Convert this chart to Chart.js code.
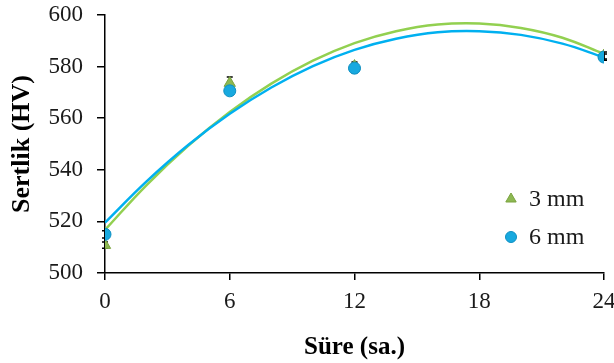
<!DOCTYPE html>
<html>
<head>
<meta charset="utf-8">
<script src="https://cdn.jsdelivr.net/npm/chart.js@4"></script>
<style>
  body { margin: 0; background: #fff; }
  #wrap { width: 614px; height: 363px; }
</style>
</head>
<body>
<div id="wrap"><canvas id="hardnessChart"></canvas></div>
<script>
// measured hours and hardness values
const hours = [0, 6, 12, 24];
const hv3mm = [510.8, 573.6, 580.2, 584.3];
const hv6mm = [515.0, 570.6, 579.4, 583.7];
const err3mm = [1.2, 2.4, 1.6, 1.4];
const err6mm = [1.4, 1.6, 1.8, 1.2];

// polynomial trend lines
const trendHours = [0, 2, 4, 6, 8, 10, 12, 14, 16, 18, 20, 22, 24];
const trend3mm = [516.7, 534.1, 549.3, 562.4, 573.4, 582.3, 589.1, 593.7, 596.3, 596.7, 595.0, 591.2, 584.9];
const trend6mm = [519.5, 535.5, 549.6, 561.7, 571.9, 580.2, 586.5, 590.8, 593.3, 593.7, 592.3, 588.9, 583.6];

const yTicks = [500, 520, 540, 560, 580, 600];
const xTicks = [0, 6, 12, 18, 24];

const GREEN = "#92D050";
const BLUE = "#00B0F0";
const FONT = "'Liberation Serif', 'Times New Roman', serif";

function toPoints(xs, ys) {
  return xs.map((x, i) => ({ x: x, y: ys[i] }));
}

// small error bars drawn under the markers
const errorBars = {
  id: "errorBars",
  beforeDatasetsDraw(chart) {
    const ctx = chart.ctx;
    const xs = chart.scales.x, ys = chart.scales.y;
    [[hv3mm, err3mm], [hv6mm, err6mm]].forEach(([vals, errs]) => {
      hours.forEach((h, i) => {
        const px = xs.getPixelForValue(h);
        const top = ys.getPixelForValue(vals[i] + errs[i]);
        const bot = ys.getPixelForValue(vals[i] - errs[i]);
        ctx.save();
        ctx.strokeStyle = "#000";
        ctx.lineWidth = 1.5;
        ctx.beginPath();
        ctx.moveTo(px, top); ctx.lineTo(px, bot);
        ctx.moveTo(px - 3, top); ctx.lineTo(px + 3, top);
        ctx.moveTo(px - 3, bot); ctx.lineTo(px + 3, bot);
        ctx.stroke();
        ctx.restore();
      });
    });
  }
};

// legend sits inside the plot, lower right
const insideLegend = {
  id: "insideLegend",
  afterDraw(chart) {
    const ctx = chart.ctx;
    const items = [
      { text: "3 mm", style: "triangle", color: "#8DB852", border: "#7AA33F", y: 199 },
      { text: "6 mm", style: "circle", color: "#18A9DF", border: "#0E8FC2", y: 237 }
    ];
    ctx.save();
    ctx.font = "24px " + FONT;
    ctx.textBaseline = "middle";
    items.forEach(it => {
      ctx.fillStyle = it.color;
      ctx.strokeStyle = it.border;
      ctx.lineWidth = 1;
      Chart.helpers.drawPoint(ctx, { pointStyle: it.style, radius: it.style === "circle" ? 5.5 : 6, borderWidth: 1 }, 511, it.y);
      ctx.fillStyle = "#1a1a1a";
      ctx.fillText(it.text, 529, it.y + 1);
    });
    ctx.restore();
  }
};

const ctx = document.getElementById("hardnessChart").getContext("2d");

new Chart(ctx, {
  type: "scatter",
  data: {
    datasets: [
      {
        label: "3 mm",
        data: toPoints(hours, hv3mm),
        pointStyle: "triangle",
        pointRadius: 6.5,
        backgroundColor: "#8DB852",
        borderColor: "#7AA33F",
        borderWidth: 1,
        order: 1
      },
      {
        label: "6 mm",
        data: toPoints(hours, hv6mm),
        pointStyle: "circle",
        pointRadius: 6,
        backgroundColor: "#18A9DF",
        borderColor: "#0E8FC2",
        borderWidth: 1,
        order: 0
      },
      {
        label: "trend 3 mm",
        data: toPoints(trendHours, trend3mm),
        showLine: true,
        borderColor: GREEN,
        borderWidth: 2.5,
        pointRadius: 0,
        tension: 0.4,
        order: 3
      },
      {
        label: "trend 6 mm",
        data: toPoints(trendHours, trend6mm),
        showLine: true,
        borderColor: BLUE,
        borderWidth: 2.5,
        pointRadius: 0,
        tension: 0.4,
        order: 2
      }
    ]
  },
  options: {
    responsive: true,
    maintainAspectRatio: false,
    animation: false,
    layout: { padding: { top: 15, right: 10, left: 0, bottom: 0 } },
    plugins: {
      legend: { display: false },
      tooltip: { enabled: false }
    },
    scales: {
      x: {
        type: "linear",
        min: 0,
        max: 24,
        afterBuildTicks: (axis) => { axis.ticks = xTicks.map(v => ({ value: v })); },
        ticks: {
          color: "#1a1a1a",
          font: { family: FONT, size: 23 },
          padding: 8
        },
        grid: { drawOnChartArea: false, drawTicks: true, tickLength: 7, color: "#000", lineWidth: 1.5 },
        border: { color: "#000", width: 1.5 },
        title: {
          display: true,
          text: "Süre (sa.)",
          color: "#000",
          font: { family: FONT, size: 25, weight: "bold" },
          padding: { top: 10, bottom: 0 }
        },
        afterFit: (axis) => {
          axis.height = 90;
          axis.paddingLeft = 0;
          axis.paddingRight = 0;
        }
      },
      y: {
        type: "linear",
        min: 500,
        max: 600,
        afterBuildTicks: (axis) => { axis.ticks = yTicks.map(v => ({ value: v })); },
        ticks: {
          color: "#1a1a1a",
          font: { family: FONT, size: 23 },
          padding: 14
        },
        grid: { drawOnChartArea: false, drawTicks: true, tickLength: 8, color: "#000", lineWidth: 1.5 },
        border: { color: "#000", width: 1.5 },
        title: {
          display: true,
          text: "Sertlik (HV)",
          color: "#000",
          font: { family: FONT, size: 26, weight: "bold" },
          padding: { top: 7, bottom: 0 }
        },
        afterFit: (axis) => {
          axis.width = 105;
          axis.paddingTop = 0;
          axis.paddingBottom = 0;
        }
      }
    }
  },
  plugins: [errorBars, insideLegend]
});
</script>
</body>
</html>
